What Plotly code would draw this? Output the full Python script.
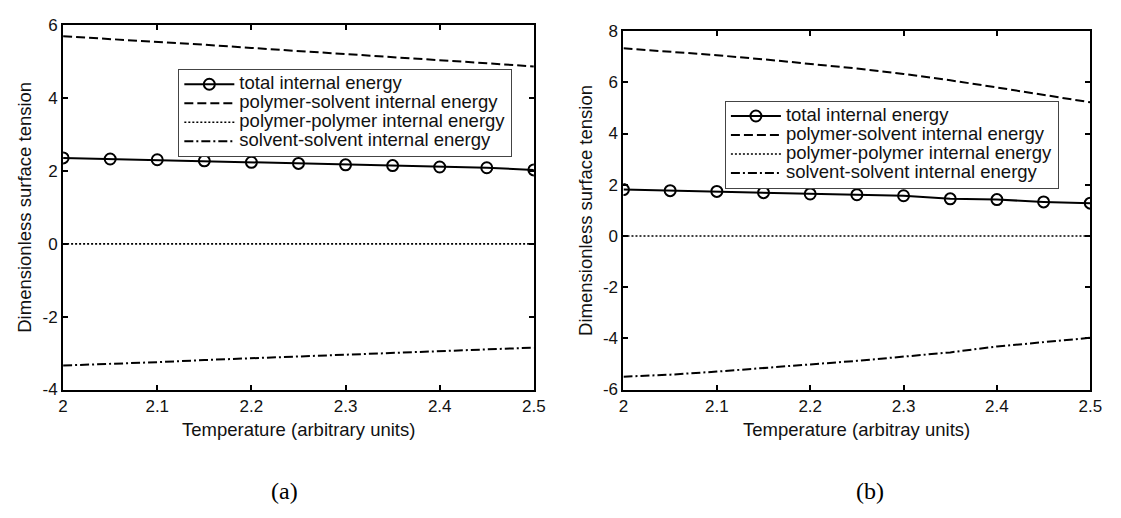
import plotly.graph_objects as go

W, H = 1121, 518

# ---------------- data ----------------
temperature = [2.0, 2.05, 2.1, 2.15, 2.2, 2.25, 2.3, 2.35, 2.4, 2.45, 2.5]

# panel (a)
a_total = [2.36, 2.33, 2.31, 2.28, 2.24, 2.21, 2.17, 2.15, 2.11, 2.09, 2.03]
a_poly_solv = [5.70, 5.63, 5.56, 5.47, 5.38, 5.30, 5.21, 5.13, 5.05, 4.96, 4.87]
a_poly_poly = [0, 0, 0, 0, 0, 0, 0, 0, 0, 0, 0]
a_solv_solv = [-3.34, -3.30, -3.25, -3.19, -3.14, -3.09, -3.04, -2.98, -2.94, -2.89, -2.85]

# panel (b)
b_total = [1.81, 1.77, 1.74, 1.69, 1.64, 1.61, 1.57, 1.45, 1.42, 1.33, 1.28]
b_poly_solv = [7.33, 7.20, 7.06, 6.90, 6.72, 6.54, 6.33, 6.08, 5.80, 5.52, 5.22]
b_poly_poly = [0, 0, 0, 0, 0, 0, 0, 0, 0, 0, 0]
b_solv_solv = [-5.50, -5.42, -5.30, -5.15, -5.02, -4.88, -4.72, -4.55, -4.32, -4.15, -3.98]

series_names = [
    "total internal energy",
    "polymer-solvent internal energy",
    "polymer-polymer internal energy",
    "solvent-solvent internal energy",
]

x_tickvals = [2.0, 2.1, 2.2, 2.3, 2.4, 2.5]
x_ticktext = ["2", "2.1", "2.2", "2.3", "2.4", "2.5"]
a_y_tickvals = [-4, -2, 0, 2, 4, 6]
a_y_ticktext = ["-4", "-2", "0", "2", "4", "6"]
b_y_tickvals = [-6, -4, -2, 0, 2, 4, 6, 8]
b_y_ticktext = ["-6", "-4", "-2", "0", "2", "4", "6", "8"]

x_title_a = "Temperature (arbitrary units)"
x_title_b = "Temperature (arbitray units)"
y_title = "Dimensionless surface tension"

SANS = "Liberation Sans, Arial, Helvetica, sans-serif"
SERIF = "Liberation Serif, Times New Roman, serif"

fig = go.Figure()


def legend_label(name):
    # larger visible text while the legend row pitch follows the legend base font
    return '<span style="font-size:18.5px">' + name + "</span>"


def add_panel(total, ps, pp, ss, xa, ya, legend):
    fig.add_trace(go.Scatter(
        x=temperature, y=total, name=legend_label(series_names[0]), mode="lines+markers",
        line=dict(color="black", width=2),
        marker=dict(symbol="circle-open", size=11, color="black",
                    line=dict(width=2, color="black")),
        xaxis=xa, yaxis=ya, legend=legend))
    fig.add_trace(go.Scatter(
        x=temperature, y=ps, name=legend_label(series_names[1]), mode="lines",
        line=dict(color="black", width=2, dash="9px,4px"),
        xaxis=xa, yaxis=ya, legend=legend))
    fig.add_trace(go.Scatter(
        x=temperature, y=pp, name=legend_label(series_names[2]), mode="lines",
        line=dict(color="black", width=1.6, dash="2px,2px"),
        xaxis=xa, yaxis=ya, legend=legend))
    fig.add_trace(go.Scatter(
        x=temperature, y=ss, name=legend_label(series_names[3]), mode="lines",
        line=dict(color="black", width=2, dash="9px,3px,2px,3px"),
        xaxis=xa, yaxis=ya, legend=legend))


add_panel(a_total, a_poly_solv, a_poly_poly, a_solv_solv, "x", "y", "legend")
add_panel(b_total, b_poly_solv, b_poly_poly, b_solv_solv, "x2", "y2", "legend2")

axis_common = dict(
    showgrid=False, zeroline=False, showline=True, linecolor="black", linewidth=2,
    mirror="ticks", ticks="inside", ticklen=5, tickwidth=2, tickcolor="black",
    tickfont=dict(family=SANS, size=17, color="#111"),
)

# pixel geometry of the two plot areas
a_left, a_right, a_top, a_bottom = 59, 537, 17, 395
b_left, b_right, b_top, b_bottom = 628, 1102, 23, 395

legend_common = dict(
    xanchor="left", yanchor="top", bgcolor="white", bordercolor="#444",
    borderwidth=1, font=dict(family=SANS, size=12, color="#111"),
    itemwidth=50, tracegroupgap=0,
)

fig.update_layout(
    width=W, height=H,
    margin=dict(l=0, r=0, t=0, b=0),
    paper_bgcolor="white", plot_bgcolor="white",
    xaxis=dict(domain=[a_left / W, a_right / W], range=[2, 2.5],
               tickvals=x_tickvals, ticktext=x_ticktext, anchor="y", **axis_common),
    yaxis=dict(domain=[1 - a_bottom / H, 1 - a_top / H], range=[-4, 6],
               tickvals=a_y_tickvals, ticktext=a_y_ticktext, anchor="x", **axis_common),
    xaxis2=dict(domain=[b_left / W, b_right / W], range=[2, 2.5],
                tickvals=x_tickvals, ticktext=x_ticktext, anchor="y2", **axis_common),
    yaxis2=dict(domain=[1 - b_bottom / H, 1 - b_top / H], range=[-6, 8],
                tickvals=b_y_tickvals, ticktext=b_y_ticktext, anchor="x2", **axis_common),
    legend=dict(x=176 / W, y=1 - 62 / H, **legend_common),
    legend2=dict(x=731 / W, y=1 - 95 / H, **legend_common),
    showlegend=True,
)

title_font = dict(family=SANS, size=18.5, color="#111")
annotations = [
    dict(text=y_title, x=19.6 / W, y=1 - 206 / H, textangle=-90, font=title_font),
    dict(text=y_title, x=589.5 / W, y=1 - 209 / H, textangle=-90, font=title_font),
    dict(text=x_title_a, x=298 / W, y=1 - 436 / H, font=title_font),
    dict(text=x_title_b, x=865 / W, y=1 - 436 / H, font=title_font),
    dict(text="(a)", x=284 / W, y=1 - 500 / H,
         font=dict(family=SERIF, size=24, color="black")),
    dict(text="(b)", x=878 / W, y=1 - 500 / H,
         font=dict(family=SERIF, size=24, color="black")),
]
for a in annotations:
    a.update(xref="paper", yref="paper", showarrow=False,
             xanchor="center", yanchor="middle")
fig.update_layout(annotations=annotations)

fig.write_html("out.html")
